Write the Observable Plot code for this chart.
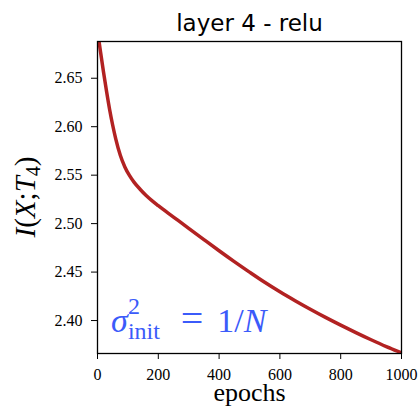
<!DOCTYPE html>
<html>
<head>
<meta charset="utf-8">
<script src="https://cdn.jsdelivr.net/npm/d3@7"></script>
<script src="https://cdn.jsdelivr.net/npm/@observablehq/plot@0.6"></script>
<style>
  html, body { margin: 0; padding: 0; background: #fff; }
</style>
</head>
<body>
<div id="chart"></div>
<script>
// Data
const epochs = [0, 10, 20, 30, 40, 50, 60, 75, 90, 105, 120, 140, 160, 180, 200, 250, 300, 350, 400, 450, 500, 550, 600, 650, 700, 750, 800, 850, 900, 950, 1000];
const miValues = [2.699, 2.677, 2.656, 2.636, 2.6175, 2.6015, 2.5875, 2.5705, 2.5585, 2.5497, 2.5428, 2.5355, 2.5290, 2.5235, 2.5185, 2.5068, 2.4951, 2.4835, 2.4720, 2.4608, 2.4500, 2.4395, 2.4297, 2.4205, 2.4117, 2.4033, 2.3953, 2.3876, 2.3802, 2.3732, 2.3668];
const xTicks = [0, 200, 400, 600, 800, 1000];
const yTicks = [2.40, 2.45, 2.50, 2.55, 2.60, 2.65];
const titleText = "layer 4 - relu";
const xLabel = "epochs";

const series = epochs.map((e, i) => ({epoch: e, mi: miValues[i]}));

// annotation pieces: sigma^2_init = 1/N
const blue = "#3b5bfa";
const annot = [
  {x: 44,  y: 2.388,  t: "σ",    size: 34, italic: true,  anchor: "start"},
  {x: 100, y: 2.4069, t: "2",    size: 24, italic: false, anchor: "start"},
  {x: 100, y: 2.3814, t: "init", size: 24, italic: false, anchor: "start"},
  {x: 311, y: 2.388,  t: "=",    size: 40, italic: false, anchor: "middle"},
  {x: 394, y: 2.388,  t: "1/",   size: 34, italic: false, anchor: "start"},
  {x: 481, y: 2.388,  t: "N",    size: 34, italic: true,  anchor: "start"}
];

const serif = "'Liberation Serif', 'DejaVu Serif', serif";
const mL = 97, mR = 18, mT = 41, mB = 54, W = 419, H = 407;

const plot = Plot.plot({
  width: W,
  height: H,
  marginLeft: mL,
  marginRight: mR,
  marginTop: mT,
  marginBottom: mB,
  style: {fontFamily: serif, fontSize: "16px", color: "#000", background: "#fff", overflow: "visible"},
  x: {domain: [0, 1000]},
  y: {domain: [2.3660, 2.6879]},
  marks: [
    Plot.line(series, {x: "epoch", y: "mi", stroke: "#b22222", strokeWidth: 3.5, curve: "monotone-x", clip: true}),
    Plot.frame({stroke: "#000", strokeWidth: 1.3}),
    Plot.axisX({ticks: xTicks, tickFormat: d => String(d), tickSize: 6, tickPadding: 9, label: null, fontSize: 16, fontFamily: serif}),
    Plot.axisY({ticks: yTicks, tickFormat: d3.format(".2f"), tickSize: 6, tickPadding: 9, label: null, fontSize: 16, fontFamily: serif}),
    ...annot.map(a => Plot.text([a], {
      x: "x", y: "y", text: "t", fill: blue, fontSize: a.size,
      fontStyle: a.italic ? "italic" : "normal", fontFamily: serif,
      textAnchor: a.anchor, lineAnchor: "bottom"
    })),
    Plot.text([titleText], {frameAnchor: "top", lineAnchor: "bottom", dy: -11, fontSize: 23, fontFamily: "'DejaVu Sans', sans-serif", fill: "#000"}),
    Plot.text([xLabel], {frameAnchor: "bottom", lineAnchor: "bottom", dy: 47, fontSize: 26, fontFamily: serif, fill: "#000"})
  ]
});

document.getElementById("chart").appendChild(plot);

// y-axis label I(X;T_4), rotated
const svg = d3.select(plot);
const cy = mT + (H - mT - mB) / 2;
const yl = svg.append("text")
  .attr("transform", `translate(35,${cy}) rotate(-90)`)
  .attr("text-anchor", "middle")
  .attr("font-family", serif)
  .attr("font-size", 29)
  .attr("fill", "#000");
yl.append("tspan").attr("font-style", "italic").text("I");
yl.append("tspan").text("(");
yl.append("tspan").attr("font-style", "italic").text("X");
yl.append("tspan").text(";");
yl.append("tspan").attr("font-style", "italic").text("T");
yl.append("tspan").attr("font-size", 20).attr("dy", 5).text("4");
yl.append("tspan").attr("dy", -5).text(")");
</script>
</body>
</html>
